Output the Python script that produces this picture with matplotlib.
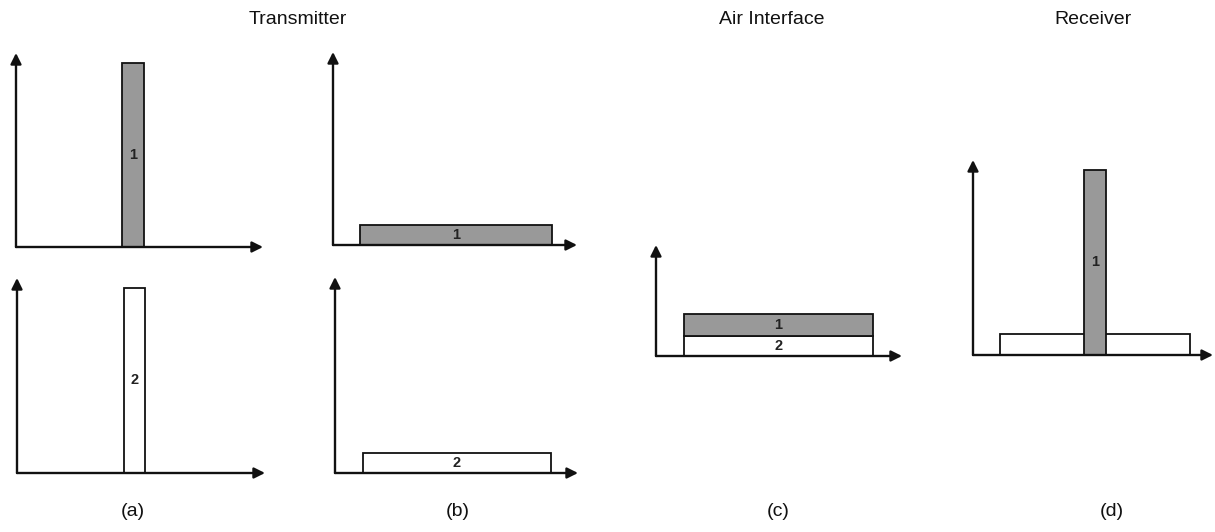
import matplotlib
matplotlib.use('Agg')
import matplotlib.pyplot as plt

plt.rcParams['font.family'] = ['Liberation Sans', 'DejaVu Sans']

W, H = 1215, 532

# signal spectra: centre, width, bottom, height, fill, label  (axis units 0..10)
a_top_signals = [(4.74, 0.89, 0.0, 9.48, 'grey', '1')]
a_bot_signals = [(4.74, 0.85, 0.0, 9.49, 'white', '2')]
b_top_signals = [(5.04, 7.87, 0.0, 1.04, 'grey', '1')]
b_bot_signals = [(5.02, 7.74, 0.0, 1.02, 'white', '2')]
c_signals = [(4.98, 7.68, 0.0, 1.80, 'white', '2'),
             (4.98, 7.68, 1.80, 1.98, 'grey', '1')]
d_signals = [(5.08, 7.92, 0.0, 1.08, 'white', ''),
             (5.08, 0.92, 0.0, 9.49, 'grey', '1')]

titles = ['Transmitter', 'Air Interface', 'Receiver']
title_x = [298, 772, 1093]
panel_labels = ['(a)', '(b)', '(c)', '(d)']
panel_label_x = [133, 458, 778, 1112]

# pixel boxes of each little plot: origin x, origin y, arrow tip x, arrow tip y
boxes = {
    'a_top': (16, 247, 263, 53),
    'a_bot': (17, 473, 265, 278),
    'b_top': (333, 245, 577, 52),
    'b_bot': (335, 473, 578, 277),
    'c': (656, 356, 902, 245),
    'd': (973, 355, 1213, 160),
}
signals = {
    'a_top': a_top_signals, 'a_bot': a_bot_signals,
    'b_top': b_top_signals, 'b_bot': b_bot_signals,
    'c': c_signals, 'd': d_signals,
}

fills = {'grey': '#999999', 'white': 'white'}

fig = plt.figure(figsize=(W / 100, H / 100), dpi=100)

for key, (x0, y0, x1, y1) in boxes.items():
    ax = fig.add_axes([x0 / W, 1 - y0 / H, (x1 - x0) / W, (y0 - y1) / H])
    ax.set_xlim(0, 10)
    ax.set_ylim(0, 10)
    ax.axis('off')
    for centre, width, bottom, height, fill, lab in signals[key]:
        ax.bar(centre, height, width=width, bottom=bottom, color=fills[fill],
               edgecolor='#111111', linewidth=1.3, zorder=2)
        if lab:
            ax.text(centre, bottom + height / 2, lab, ha='center', va='center',
                    fontsize=10.5, fontweight='bold', color='#222222', zorder=3)
    # hand-drawn style axes with arrow heads
    for tip in [(1, 0), (0, 1)]:
        ax.annotate('', xy=tip, xytext=(0, 0), xycoords='axes fraction',
                    arrowprops=dict(arrowstyle='-|>', color='#111111', lw=1.7,
                                    mutation_scale=16, shrinkA=0, shrinkB=0),
                    zorder=4)

for t, x in zip(titles, title_x):
    fig.text(x / W, 1 - 19 / H, t, ha='center', va='center', fontsize=14,
             color='#111111')

for t, x in zip(panel_labels, panel_label_x):
    fig.text(x / W, 1 - 511 / H, t, ha='center', va='center', fontsize=14,
             color='#111111')

fig.savefig('out.png', dpi=100)
